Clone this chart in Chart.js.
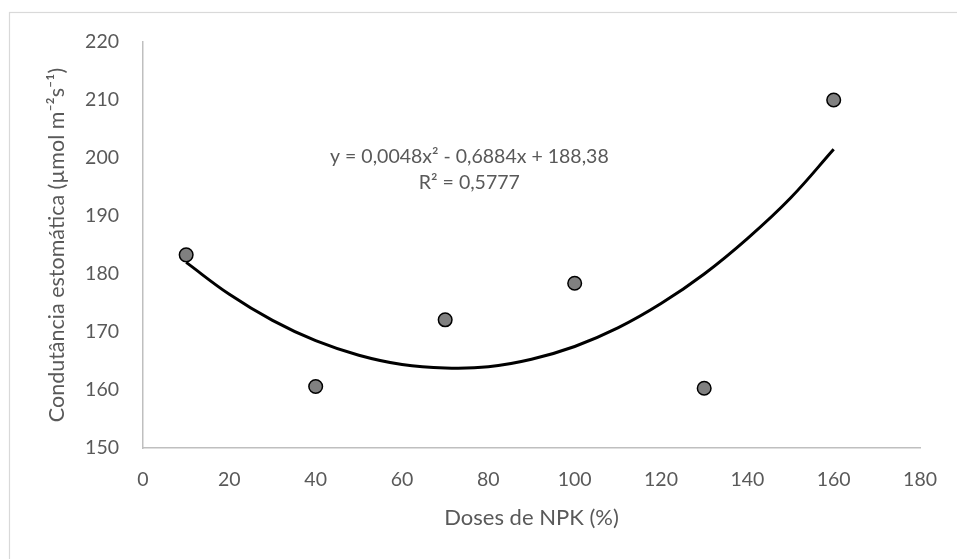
<!DOCTYPE html>
<html>
<head>
<meta charset="utf-8">
<script src="https://cdn.jsdelivr.net/npm/chart.js@4.4.0/dist/chart.umd.min.js"></script>
<style>
  html, body { margin: 0; padding: 0; background: #fff; }
  #wrap { width: 957px; height: 559px; position: relative; }
</style>
</head>
<body>
<div id="wrap"><canvas id="c" width="957" height="559"></canvas></div>
<script>
// Observed data points
const doses = [10, 40, 70, 100, 130, 160];
const conductance = [183.3, 160.6, 172.1, 178.4, 160.3, 210.0];

// Trend line
const trendX = [10, 20, 30, 40, 50, 60, 70, 80, 90, 100, 110, 120, 130, 140, 150, 160];
const trendY = [182.0, 176.5, 172.0, 168.5, 166.0, 164.4, 163.8, 164.0, 165.3, 167.5, 170.7, 174.9, 180.0, 186.1, 193.1, 201.5];

const xTicks = [0, 20, 40, 60, 80, 100, 120, 140, 160, 180];
const yTicks = [150, 160, 170, 180, 190, 200, 210, 220];

const equationLines = ['y = 0,0048x² - 0,6884x + 188,38', 'R² = 0,5777'];

const FONT = 'Lato, "Open Sans", sans-serif';
const TXT = '#595959';

const borderPlugin = {
  id: 'border',
  beforeDraw(chart) {
    const ctx = chart.ctx;
    ctx.save();
    ctx.fillStyle = '#fff';
    ctx.fillRect(0, 0, chart.width, chart.height);
    ctx.strokeStyle = '#d9d9d9';
    ctx.lineWidth = 1.2;
    ctx.strokeRect(9.5, 12.5, 960, 560);
    ctx.restore();
  }
};

const equationPlugin = {
  id: 'equation',
  afterDatasetsDraw(chart) {
    const ctx = chart.ctx;
    const xs = chart.scales.x, ys = chart.scales.y;
    const cx = xs.getPixelForValue(75.6);
    const cy = ys.getPixelForValue(200.2);
    ctx.save();
    ctx.fillStyle = TXT;
    ctx.font = '19.5px ' + FONT;
    ctx.textAlign = 'center';
    ctx.textBaseline = 'middle';
    ctx.fillText(equationLines[0], cx, cy);
    ctx.fillText(equationLines[1], cx, cy + 26);
    ctx.restore();
  }
};

new Chart(document.getElementById('c'), {
  type: 'scatter',
  data: {
    datasets: [
      {
        label: 'trend',
        data: trendX.map((x, i) => ({ x: x, y: trendY[i] })),
        showLine: true,
        borderColor: '#000',
        borderWidth: 3,
        pointRadius: 0,
        tension: 0.4,
        order: 2
      },
      {
        label: 'data',
        data: doses.map((x, i) => ({ x: x, y: conductance[i] })),
        backgroundColor: '#808080',
        borderColor: '#000',
        borderWidth: 1.5,
        pointRadius: 6.8,
        order: 1
      }
    ]
  },
  options: {
    responsive: false,
    animation: false,
    layout: { padding: { left: 10, right: 35, top: 42, bottom: 10 } },
    plugins: { legend: { display: false }, tooltip: { enabled: false } },
    scales: {
      x: {
        type: 'linear',
        min: 0, max: 180,
        afterBuildTicks(s) { s.ticks = xTicks.map(v => ({ value: v })); },
        afterFit(s) { s.height = 101; },
        grid: { display: false, drawTicks: false },
        border: { display: true, color: '#bfbfbf', width: 1.5 },
        ticks: { color: TXT, font: { family: FONT, size: 19.5 }, padding: 20, maxRotation: 0 },
        title: { display: true, text: 'Doses de NPK (%)', color: TXT, font: { family: FONT, size: 22 }, padding: { top: 4, bottom: 18 } }
      },
      y: {
        type: 'linear',
        min: 150, max: 220,
        afterBuildTicks(s) { s.ticks = yTicks.map(v => ({ value: v })); },
        afterFit(s) { s.width = 133; },
        grid: { display: false, drawTicks: false },
        border: { display: true, color: '#bfbfbf', width: 1.5 },
        ticks: { color: TXT, font: { family: FONT, size: 19.5 }, padding: 24 },
        title: { display: true, text: 'Condutância estomática (µmol m⁻²s⁻¹)', color: TXT, font: { family: FONT, size: 21.5 }, padding: { top: 34, bottom: 4 } }
      }
    }
  },
  plugins: [borderPlugin, equationPlugin]
});
</script>
</body>
</html>
